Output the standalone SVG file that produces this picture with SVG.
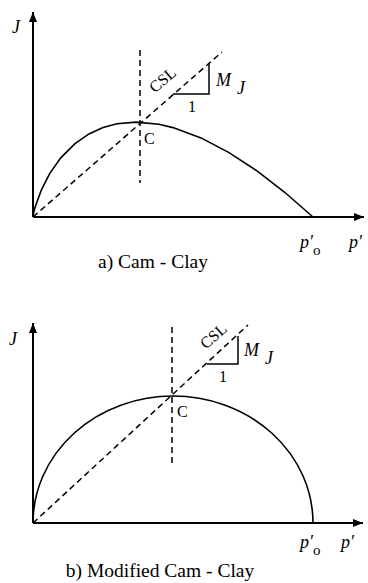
<svg xmlns="http://www.w3.org/2000/svg" width="368" height="583" viewBox="0 0 368 583" font-family="'Liberation Serif','DejaVu Serif',serif">
<defs>
<style>
.axis{stroke:#000;stroke-width:2;fill:none}
.curve{stroke:#000;stroke-width:1.6;fill:none}
.dash{stroke:#000;stroke-width:1.5;fill:none;stroke-dasharray:6,4}
.tri{stroke:#000;stroke-width:1.5;fill:none}
text{font-family:'Liberation Serif','DejaVu Serif',serif;fill:#000}
.it{font-style:italic;font-size:18px}
.lbl{font-size:16px}
.sub{font-size:15px;font-style:normal}
.cap{font-size:19.5px}
</style>
<marker id="ah" viewBox="0 0 10 8" refX="10" refY="4" markerWidth="10" markerHeight="8" markerUnits="userSpaceOnUse" orient="auto">
<path d="M0,0 L10,4 L0,8 Z" fill="#000"/>
</marker>
</defs>
<rect width="368" height="583" fill="#fff"/>

<g id="panel-a">
<g id="axes-a">
<line class="axis" x1="33" y1="217" x2="33" y2="12" marker-end="url(#ah)"/>
<line class="axis" x1="33" y1="217" x2="364" y2="217" marker-end="url(#ah)"/>
</g>
<g id="curve-a">
<path class="curve" d="M33,217 C33.8,211 34.6,208 35.8,205.1 L41.4,189.9 L49.8,173.4 L61,157.6 L75,143.6 L89,133.9 L103,127.6 L117,123.8 L136,122.1 L159,124.3 L173,127.6 L201,137.9 L229,152.6 L257,170.9 L285,192.5 L313,217"/>
</g>
<g id="connectors-a">
<line class="dash" x1="33" y1="217" x2="222" y2="52"/>
<line class="dash" x1="140" y1="50" x2="140" y2="183"/>
<polyline class="tri" points="173,94 209,94 209,63"/>
</g>
<g id="labels-a">
<text class="it" x="12" y="33">J</text>
<text class="lbl" x="0" y="0" transform="translate(166,84) rotate(-40)" text-anchor="middle">CSL</text>
<text class="it" x="216" y="86">M</text>
<text class="it" x="237" y="94">J</text>
<text class="lbl" x="192" y="112" text-anchor="middle">1</text>
<text class="lbl" x="144" y="144">C</text>
<text class="it" x="300" y="248">p′</text>
<text class="sub" x="313" y="255">o</text>
<text class="it" x="349" y="248">p′</text>
<text class="cap" x="153" y="268" text-anchor="middle">a) Cam - Clay</text>
</g>
</g>

<g id="panel-b">
<g id="axes-b">
<line class="axis" x1="33" y1="523" x2="33" y2="323" marker-end="url(#ah)"/>
<line class="axis" x1="33" y1="523" x2="363" y2="523" marker-end="url(#ah)"/>
</g>
<g id="curve-b">
<path class="curve" d="M33,523 A140,127 0 0 1 313,523"/>
</g>
<g id="connectors-b">
<line class="dash" x1="33" y1="523" x2="248" y2="325"/>
<line class="dash" x1="172" y1="327" x2="172" y2="465"/>
<polyline class="tri" points="207,364 238,364 238,336"/>
</g>
<g id="labels-b">
<text class="it" x="9" y="345">J</text>
<text class="lbl" x="0" y="0" transform="translate(217,340) rotate(-42)" text-anchor="middle">CSL</text>
<text class="it" x="244" y="356">M</text>
<text class="it" x="265" y="364">J</text>
<text class="lbl" x="223" y="382" text-anchor="middle">1</text>
<text class="lbl" x="177" y="417">C</text>
<text class="it" x="300" y="548">p′</text>
<text class="sub" x="313" y="555">o</text>
<text class="it" x="341" y="548">p′</text>
<text class="cap" x="160" y="577" text-anchor="middle">b) Modified Cam - Clay</text>
</g>
</g>
</svg>
